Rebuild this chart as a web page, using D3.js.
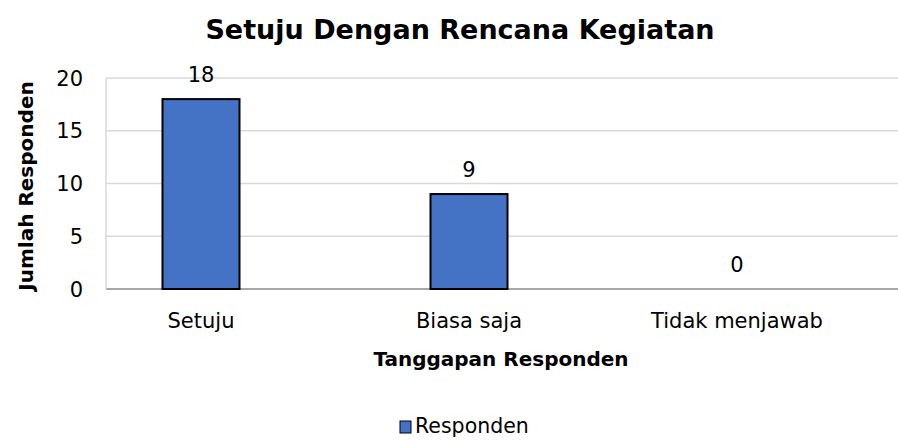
<!DOCTYPE html>
<html>
<head>
<meta charset="utf-8">
<script src="https://cdn.jsdelivr.net/npm/d3@7"></script>
<style>
  body { margin: 0; background: #fff; }
  text { font-family: "DejaVu Sans", "Noto Sans", sans-serif; fill: #000; }
</style>
</head>
<body>
<div id="container"></div>
<script>
// Data
const categories = ["Setuju", "Biasa saja", "Tidak menjawab"];
const values = [18, 9, 0];
const yTicks = [0, 5, 10, 15, 20];
const seriesName = "Responden";

const svg = d3.select("#container").append("svg")
  .attr("width", 898).attr("height", 441);

// Scales
const x = d3.scalePoint().domain(categories).range([201, 737]);
const y = d3.scaleLinear().domain([0, 20]).range([289, 78]);
const barW = 77;
const plotLeft = 106, plotRight = 898;

// Gridlines
svg.append("g").selectAll("line").data(yTicks).enter().append("line")
  .attr("x1", plotLeft).attr("x2", plotRight)
  .attr("y1", d => y(d)).attr("y2", d => y(d))
  .attr("stroke", d => d === 0 ? "#a6a6a6" : "#d9d9d9")
  .attr("stroke-width", d => d === 0 ? 2 : 1.5);

// Left axis line
svg.append("line")
  .attr("x1", plotLeft).attr("x2", plotLeft)
  .attr("y1", y(20)).attr("y2", y(0))
  .attr("stroke", "#d9d9d9").attr("stroke-width", 1.5);

// Y tick labels
svg.append("g").selectAll("text").data(yTicks).enter().append("text")
  .attr("x", 83).attr("y", d => y(d))
  .attr("dy", "0.36em")
  .attr("text-anchor", "end")
  .style("font-size", "21px")
  .text(d => d);

// Bars
svg.selectAll(".bar").data(values).enter().append("rect")
  .attr("class", "bar")
  .attr("x", (d, i) => x(categories[i]) - barW / 2)
  .attr("y", d => y(d))
  .attr("width", barW)
  .attr("height", d => y(0) - y(d))
  .attr("fill", "#4472c4")
  .attr("stroke", d => d > 0 ? "#000" : "none")
  .attr("stroke-width", 2);

// Value labels
svg.selectAll(".val").data(values).enter().append("text")
  .attr("class", "val")
  .attr("x", (d, i) => x(categories[i]))
  .attr("y", d => y(d) - 17)
  .attr("text-anchor", "middle")
  .style("font-size", "21px")
  .text(d => d);

// Category labels
svg.selectAll(".cat").data(categories).enter().append("text")
  .attr("class", "cat")
  .attr("x", d => x(d))
  .attr("y", 328)
  .attr("text-anchor", "middle")
  .style("font-size", "21px")
  .text(d => d);

// Title
svg.append("text")
  .attr("x", 460).attr("y", 39)
  .attr("text-anchor", "middle")
  .style("font-size", "27px").style("font-weight", "bold")
  .text("Setuju Dengan Rencana Kegiatan");

// Axis titles
svg.append("text")
  .attr("x", 501).attr("y", 366)
  .attr("text-anchor", "middle")
  .style("font-size", "20px").style("font-weight", "bold")
  .text("Tanggapan Responden");

svg.append("text")
  .attr("transform", "translate(33,186) rotate(-90)")
  .attr("text-anchor", "middle")
  .style("font-size", "20px").style("font-weight", "bold")
  .text("Jumlah Responden");

// Legend
const legend = svg.append("g").attr("transform", "translate(400,421)");
legend.append("rect")
  .attr("width", 11).attr("height", 12)
  .attr("fill", "#4472c4").attr("stroke", "#000").attr("stroke-width", 1);
legend.append("text")
  .attr("x", 15).attr("y", 12)
  .style("font-size", "20.5px")
  .text(seriesName);
</script>
</body>
</html>
